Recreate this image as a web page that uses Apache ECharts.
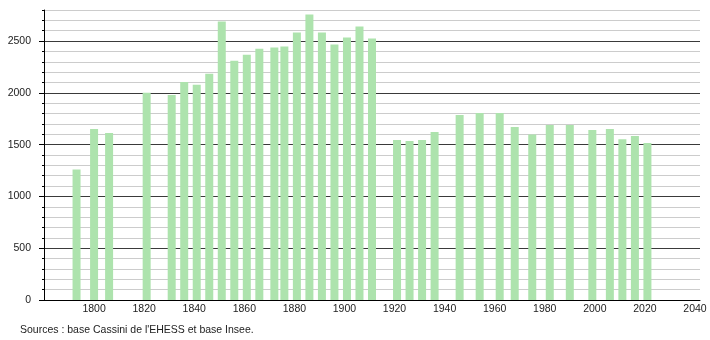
<!DOCTYPE html>
<html>
<head>
<meta charset="utf-8">
<script src="https://cdn.jsdelivr.net/npm/echarts@6/dist/echarts.min.js"></script>
<style>
  html, body { margin: 0; padding: 0; background: #fff; }
  #chart { width: 710px; height: 340px; }
</style>
</head>
<body>
<div id="chart"></div>
<script>
// Années de recensement
var annees = [1793, 1800, 1806, 1821, 1831, 1836, 1841, 1846, 1851, 1856,
  1861, 1866, 1872, 1876, 1881, 1886, 1891, 1896, 1901, 1906, 1911,
  1921, 1926, 1931, 1936, 1946, 1954, 1962, 1968, 1975, 1982, 1990,
  1999, 2006, 2011, 2016, 2021];
// Population
var population = [1260, 1650, 1612, 2002, 1980, 2104, 2078, 2184, 2689, 2311,
  2369, 2427, 2437, 2447, 2583, 2757, 2583, 2466, 2534, 2641, 2524,
  1544, 1534, 1544, 1621, 1786, 1806, 1806, 1670, 1599, 1689, 1689,
  1641, 1650, 1553, 1583, 1515];
// Graduations
var etiquettesY = [0, 500, 1000, 1500, 2000, 2500];
var etiquettesX = [1800, 1820, 1840, 1860, 1880, 1900, 1920, 1940, 1960, 1980, 2000, 2020, 2040];
var source = "Sources : base Cassini de l'EHESS et base Insee.";

var police = "'Liberation Sans', Arial, sans-serif";

var donnees = [];
annees.forEach(function (a, i) {
  donnees.push([a, population[i]]);
});

var chart = echarts.init(document.getElementById('chart'), null, { renderer: 'canvas' });
chart.setOption({
  animation: false,
  grid: { left: 44, right: 10, top: 10, bottom: 40, containLabel: false },
  xAxis: {
    type: 'value',
    min: 1780,
    max: 2042,
    interval: 20,
    axisLine: { show: true, lineStyle: { color: '#000', width: 1 } },
    axisTick: { show: false },
    splitLine: { show: false },
    axisLabel: {
      margin: 4,
      color: '#222',
      fontFamily: police,
      fontSize: 10.5,
      formatter: function (v) {
        return etiquettesX.indexOf(v) >= 0 ? String(v) : '';
      }
    }
  },
  yAxis: [{
    type: 'value',
    min: 0,
    max: 2800,
    interval: 100,
    position: 'left',
    axisLine: { show: true, lineStyle: { color: '#000', width: 1 } },
    axisTick: { show: true, length: 2, lineStyle: { color: '#000' } },
    axisLabel: { show: false },
    splitLine: {
      show: true,
      lineStyle: { color: ['#3a3a3a', '#cccccc', '#cccccc', '#cccccc', '#cccccc'], width: 1 }
    }
  }, {
    type: 'value',
    min: 0,
    max: 2800,
    interval: 500,
    position: 'left',
    axisLine: { show: false },
    axisTick: { show: true, length: 5, customValues: etiquettesY, lineStyle: { color: '#000' } },
    axisLabel: {
      customValues: etiquettesY,
      margin: 13,
      color: '#222',
      fontFamily: police,
      fontSize: 10.5,
      formatter: function (v) { return String(v); }
    },
    splitLine: { show: false }
  }],
  series: [{
    type: 'bar',
    yAxisIndex: 0,
    barWidth: 8,
    itemStyle: { color: '#ade3ad' },
    data: donnees
  }],
  graphic: [{
    type: 'text',
    left: 20,
    top: 325,
    style: { text: source, fill: '#222', font: '10.5px ' + police }
  }]
});
</script>
</body>
</html>
